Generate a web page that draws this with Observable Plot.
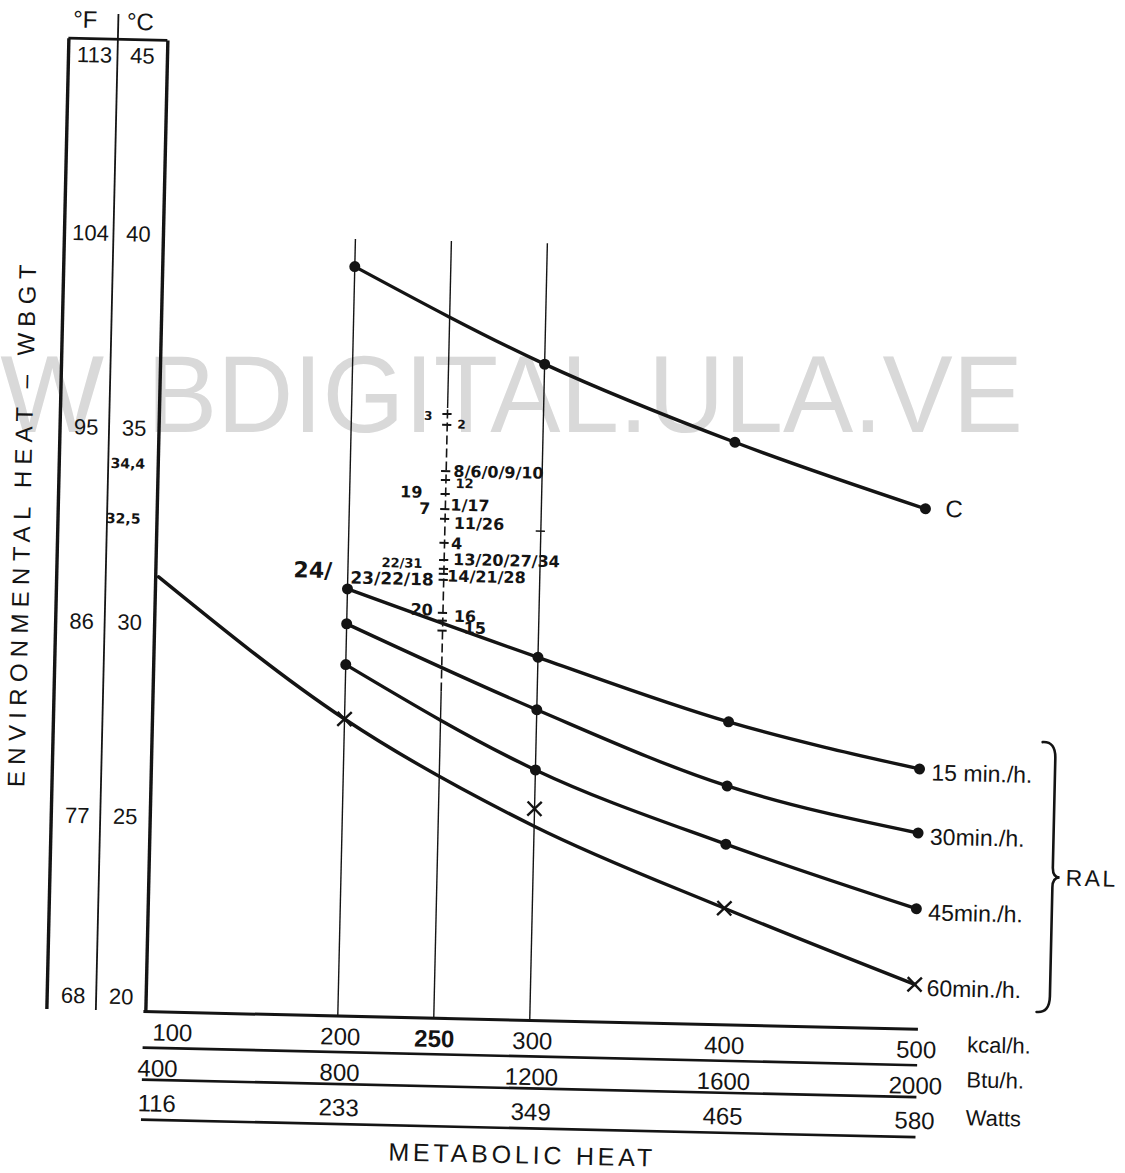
<!DOCTYPE html>
<html>
<head>
<meta charset="utf-8">
<script src="https://cdn.jsdelivr.net/npm/d3@7"></script>
<script src="https://cdn.jsdelivr.net/npm/@observablehq/plot@0.6"></script>
<style>
  html, body { margin: 0; padding: 0; background: #ffffff; }
  #page { position: relative; width: 1125px; height: 1173px; overflow: hidden; }
  #watermark, #chart { position: absolute; left: 0; top: 0; }
  #chart svg { transform: rotate(1.3deg); transform-origin: 540px 590px; background: transparent; max-width: none; overflow: visible; }
</style>
</head>
<body>
<div id="page">
  <svg id="watermark" width="1125" height="1173"></svg>
  <div id="chart"></div>
</div>
<script>
// ---------------- data ----------------
const kcalPoints = [200, 300, 400, 500];
const ceilingC = [39.3, 36.9, 35.0, 33.4];
const ral15 = [31.0, 29.35, 27.8, 26.7];
const ral30 = [30.1, 28.0, 26.15, 25.05];
const ral45 = [29.05, 26.45, 24.65, 23.1];
const ral60Marks = [27.65, 25.45, 23.0, 21.15];
const ral60CurveKcal = [101.5, 200, 300, 400, 500];
const ral60Curve = [31.2, 27.65, 25.0, 23.0, 21.15];
const seriesNames = ["C", "15 min./h.", "30min./h.", "45min./h.", "60min./h."];

const celsiusTicks = [45, 40, 35, 30, 25, 20];
const fahrenheitLabels = ["113", "104", "95", "86", "77", "68"];

const kcalTicks = [100, 200, 250, 300, 400, 500];
const kcalLabels = ["100", "200", "250", "300", "400", "500"];
const btuTicks = [100, 200, 300, 400, 500];
const btuLabels = ["400", "800", "1200", "1600", "2000"];
const wattTicks = [100, 200, 300, 400, 500];
const wattLabels = ["116", "233", "349", "465", "580"];
const unitLabels = ["kcal/h.", "Btu/h.", "Watts"];

const guideKcal = [200, 250, 300];
const guideTop = 40;
const dashedSpan = [28.4, 35.7];
const ticks250 = [35.56, 35.28, 34.09, 33.86, 33.5, 33.11, 32.86, 32.24, 31.8, 31.57, 31.44, 31.29, 30.44, 30.24, 29.98];
const ticks300 = [32.6];

// handwritten notes, text starting at the point
const noteRightText = ["2", "8/6/0/9/10", "12", "1/17", "11/26", "4", "13/20/27/34", "14/21/28", "23/22/18", "16", "15"];
const noteRightKcal = [255.2, 253.8, 255, 252.6, 254.6, 253.4, 254.7, 251.8, 201.4, 255.7, 261];
const noteRightWbgt = [35.29, 34.08, 33.77, 33.21, 32.74, 32.22, 31.81, 31.38, 31.28, 30.35, 30.05];
// handwritten notes, text ending at the point
const noteLeftText = ["3", "19", "7", "22/31", "20", "24/", "34,4", "32,5"];
const noteLeftKcal = [242.2, 237.9, 242.2, 238.75, 244.7, 191.8, 93.2, 91.4];
const noteLeftWbgt = [35.5, 33.52, 33.1, 31.69, 30.5, 31.45, 34.09, 32.67];

const yTitle = "ENVIRONMENTAL HEAT – WBGT";
const xTitle = "METABOLIC HEAT";
const groupLabel = "RAL";
const watermarkHead = "W";
const watermarkBody = "BDIGITAL.ULA.VE";

// ---------------- styles ----------------
const INK = "#141414";
const SANS = "'Liberation Sans', Arial, sans-serif";
const HAND = "'DejaVu Sans', sans-serif";
const noteSize = {"24/": 22, "23/22/18": 17, "2": 12, "3": 12, "12": 13, "22/31": 13, "34,4": 14, "32,5": 14};

// ---------------- tables ----------------
const curveRows = [
  ...kcalPoints.map((k, i) => ({series: seriesNames[0], kcal: k, wbgt: ceilingC[i]})),
  ...kcalPoints.map((k, i) => ({series: seriesNames[1], kcal: k, wbgt: ral15[i]})),
  ...kcalPoints.map((k, i) => ({series: seriesNames[2], kcal: k, wbgt: ral30[i]})),
  ...kcalPoints.map((k, i) => ({series: seriesNames[3], kcal: k, wbgt: ral45[i]})),
  ...ral60CurveKcal.map((k, i) => ({series: seriesNames[4], kcal: k, wbgt: ral60Curve[i]}))
];
const dotRows = curveRows.filter(d => d.series !== seriesNames[4]);
const crossRows = kcalPoints.map((k, i) => ({kcal: k, wbgt: ral60Marks[i]}));
const endRows = [
  {name: seriesNames[1], wbgt: ral15[3]},
  {name: seriesNames[2], wbgt: ral30[3]},
  {name: seriesNames[3], wbgt: ral45[3]},
  {name: seriesNames[4], wbgt: ral60Marks[3]}
];
const colRows = celsiusTicks.map((c, i) => ({c, f: fahrenheitLabels[i], pos: i === 0 ? "top" : (i === celsiusTicks.length - 1 ? "bottom" : "mid")}));
const notesRight = noteRightText.map((t, i) => ({t, kcal: noteRightKcal[i], wbgt: noteRightWbgt[i]}));
const notesLeft = noteLeftText.map((t, i) => ({t, kcal: noteLeftKcal[i], wbgt: noteLeftWbgt[i]}));
const ralEnds = [ral15[3], ral30[3], ral45[3], ral60Marks[3]];
const braceSpan = [d3.min(ralEnds) - 0.65, d3.max(ralEnds) + 0.75];

function scaleRow(ticks, labels, dy, firstDx, boldLabel) {
  const rows = ticks.map((k, i) => ({k, label: labels[i]}));
  const common = {x: "k", text: "label", frameAnchor: "bottom", textAnchor: "middle", lineAnchor: "middle", fontSize: 24, fontFamily: SANS, fill: INK, dy};
  return [
    Plot.text(rows, {...common, filter: (d, i) => i === 0, dx: firstDx}),
    Plot.text(rows, {...common, filter: (d, i) => i > 0 && d.label !== boldLabel, dx: 3}),
    Plot.text(rows, {...common, filter: d => d.label === boldLabel, dx: 1, fontWeight: "bold"})
  ];
}

// decorative pieces that live outside the plot frame
function decorations(index, scales) {
  const x = typeof scales.x === "function" ? scales.x : d3.scaleLinear([100, 500], [155, 923]);
  const y = typeof scales.y === "function" ? scales.y : d3.scaleLinear([20, 45], [1020, 49]);
  const g = d3.create("svg:g");
  const xf = x(100);
  // top edge of the temperature column box
  g.append("line").attr("x1", xf - 99).attr("x2", xf).attr("y1", y(45)).attr("y2", y(45))
    .attr("stroke", INK).attr("stroke-width", 2.6);
  // curly brace grouping the RAL curves
  const xb = x(500) + 136, yt = y(braceSpan[1]), yb = y(braceSpan[0]), ym = (yt + yb) / 2;
  g.append("path")
    .attr("d", `M${xb - 13},${yt} Q${xb},${yt - 1} ${xb},${yt + 16} L${xb},${ym - 10} Q${xb},${ym} ${xb + 7},${ym} Q${xb},${ym} ${xb},${ym + 10} L${xb},${yb - 16} Q${xb},${yb + 1} ${xb - 13},${yb}`)
    .attr("fill", "none").attr("stroke", INK).attr("stroke-width", 2.6).attr("stroke-linecap", "round");
  g.append("text").attr("x", xb + 13).attr("y", ym).attr("dy", "0.35em").attr("text-anchor", "start")
    .attr("font-family", SANS).attr("font-size", 23).attr("letter-spacing", 2.5).attr("fill", INK).text(groupLabel);
  // y title
  g.append("text").attr("transform", `translate(${xf - 134.5},${y(32.5)}) rotate(-90)`)
    .attr("text-anchor", "middle").attr("dy", "0.35em")
    .attr("font-family", SANS).attr("font-size", 24).attr("letter-spacing", 6.3).attr("fill", INK).text(yTitle);
  // x title
  g.append("text").attr("x", x(300) - 4).attr("y", y(20) + 135).attr("dy", "0.35em")
    .attr("text-anchor", "middle").attr("font-family", SANS).attr("font-size", 25).attr("letter-spacing", 3.8)
    .attr("fill", INK).text(xTitle);
  return g.node();
}

const columnLabelMarks = [["top", 16], ["mid", 0], ["bottom", -14]].flatMap(([pos, dy]) => [
  Plot.text(colRows, {filter: d => d.pos === pos, y: "c", text: "f", frameAnchor: "left", textAnchor: "middle", dx: -73, dy, fontSize: 22, fontFamily: SANS, fill: INK}),
  Plot.text(colRows, {filter: d => d.pos === pos, y: "c", text: d => String(d.c), frameAnchor: "left", textAnchor: "middle", dx: -25, dy, fontSize: 22, fontFamily: SANS, fill: INK})
]);

const chart = Plot.plot({
  width: 1125,
  height: 1173,
  marginLeft: 155,
  marginRight: 202,
  marginTop: 49,
  marginBottom: 153,
  x: {domain: [100, 500], axis: null},
  y: {domain: [20, 45], axis: null},
  style: {background: "transparent", fontFamily: SANS, color: INK},
  marks: [
    // vertical guide lines
    Plot.ruleX(guideKcal.filter(k => k !== 250), {y1: 20, y2: guideTop, stroke: INK, strokeWidth: 1.4}),
    Plot.ruleX(guideKcal.filter(k => k === 250), {y1: 20, y2: dashedSpan[0], stroke: INK, strokeWidth: 1.4}),
    Plot.ruleX(guideKcal.filter(k => k === 250), {y1: dashedSpan[0], y2: dashedSpan[1], stroke: INK, strokeWidth: 1.6, strokeDasharray: "9,4"}),
    Plot.ruleX(guideKcal.filter(k => k === 250), {y1: dashedSpan[1], y2: guideTop, stroke: INK, strokeWidth: 1.4}),
    Plot.ruleY(ticks250, {x1: 247.6, x2: 252.4, stroke: INK, strokeWidth: 2}),
    Plot.ruleY(ticks300, {x1: 297.6, x2: 302.4, stroke: INK, strokeWidth: 1.6}),
    // temperature column lines
    Plot.ruleX([100], {y1: 20, y2: 45, dx: -99, stroke: INK, strokeWidth: 3.4}),
    Plot.ruleX([100], {y1: 20, y2: 45.65, dx: -50, stroke: INK, strokeWidth: 1.8}),
    Plot.ruleX([100], {y1: 20, y2: 45, stroke: INK, strokeWidth: 3.4}),
    // metabolic scale lines
    ...[0, 36, 68, 108].map((dy, i) => Plot.ruleY([20], {x1: 99, x2: 502.5, dy, stroke: INK, strokeWidth: i === 0 ? 3 : 2.6})),
    // curves and markers
    Plot.line(curveRows, {x: "kcal", y: "wbgt", z: "series", curve: "monotone-x", stroke: INK, strokeWidth: 3.4}),
    Plot.dot(dotRows, {x: "kcal", y: "wbgt", r: 5.5, fill: INK, stroke: "none"}),
    Plot.dot(crossRows, {x: "kcal", y: "wbgt", symbol: "times", r: 6.5, stroke: INK, strokeWidth: 2.4}),
    // curve labels
    Plot.text([seriesNames[0]], {x: 500, y: ceilingC[3], text: d => d, textAnchor: "start", dx: 20, fontSize: 24, fontFamily: SANS, fill: INK}),
    Plot.text(endRows, {x: 500, y: "wbgt", text: "name", textAnchor: "start", dx: 12, dy: 4, fontSize: 23, fontFamily: SANS, fill: INK}),
    // handwritten notes
    Plot.text(notesRight, {x: "kcal", y: "wbgt", text: "t", textAnchor: "start", fontSize: d => noteSize[d.t] || 16, fontFamily: HAND, fontWeight: "bold", fill: INK}),
    Plot.text(notesLeft, {x: "kcal", y: "wbgt", text: "t", textAnchor: "end", fontSize: d => noteSize[d.t] || 16, fontFamily: HAND, fontWeight: "bold", fill: INK}),
    // temperature column labels and headers
    ...columnLabelMarks,
    Plot.text(["°F"], {y: 45, frameAnchor: "left", textAnchor: "middle", text: d => d, dx: -83, dy: -19, fontSize: 24, fontFamily: SANS, fill: INK}),
    Plot.text(["°C"], {y: 45, frameAnchor: "left", textAnchor: "middle", text: d => d, dx: -28, dy: -18, fontSize: 24, fontFamily: SANS, fill: INK}),
    // metabolic scale labels
    ...scaleRow(kcalTicks, kcalLabels, 21, 27, "250"),
    ...scaleRow(btuTicks, btuLabels, 57, 13, null),
    ...scaleRow(wattTicks, wattLabels, 92, 13, null),
    ...unitLabels.map((u, i) => Plot.text([u], {x: 500, text: d => d, frameAnchor: "bottom", dy: [22, 57, 95][i], dx: 54, textAnchor: "start", fontSize: 22, fontFamily: SANS, fill: INK})),
    decorations
  ]
});
document.getElementById("chart").appendChild(chart);

// watermark of the scanned page (horizontal, not part of the rotated scan)
const wm = d3.select("#watermark");
wm.append("text").attr("x", 104).attr("y", 432).attr("text-anchor", "end")
  .attr("font-family", SANS).attr("font-size", 110).attr("fill", "#d9d9d9").text(watermarkHead);
wm.append("text").attr("x", 147).attr("y", 432).attr("textLength", 876).attr("lengthAdjust", "spacingAndGlyphs")
  .attr("font-family", SANS).attr("font-size", 110).attr("fill", "#d9d9d9").text(watermarkBody);
</script>
</body>
</html>
